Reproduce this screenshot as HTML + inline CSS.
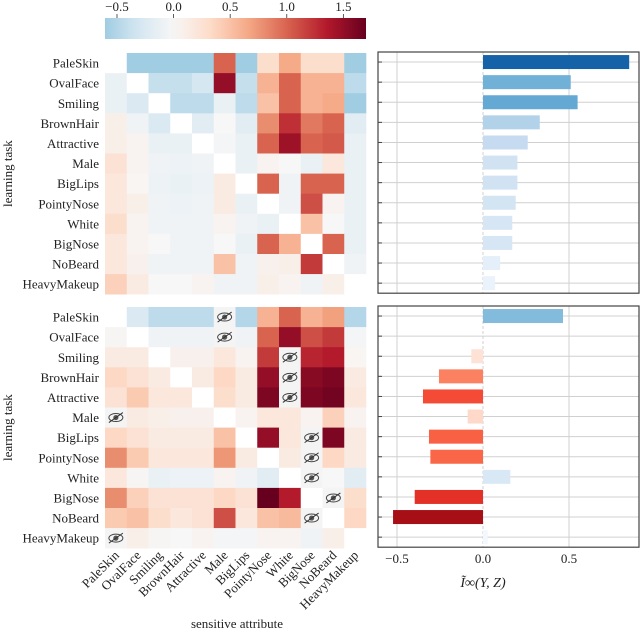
<!DOCTYPE html>
<html><head><meta charset="utf-8"><style>
body{margin:0;background:#fff;}
svg text{font-family:"Liberation Serif",serif;fill:#222;}
</style></head><body>
<svg id="fig" width="640" height="631" viewBox="0 0 640 631" xmlns="http://www.w3.org/2000/svg">
<defs><linearGradient id="cbg" x1="0" x2="1" y1="0" y2="0"></linearGradient></defs>
<g id="cb"></g>
<g id="hm1"></g>
<g id="hm2"></g>
<g id="bc1"></g>
<g id="bc2"></g>
<g id="labels"></g>
</svg>
<script>
const attrs = ["PaleSkin","OvalFace","Smiling","BrownHair","Attractive","Male","BigLips","PointyNose","White","BigNose","NoBeard","HeavyMakeup"];
const N = null, E = "eye";
const topMatrix = [
[N,-0.6,-0.6,-0.6,-0.6,1.0,-0.6,0.3,0.65,0.3,0.3,-0.6],
[-0.12,N,-0.4,-0.4,-0.3,1.5,-0.4,0.6,1.0,0.6,0.6,-0.45],
[-0.12,-0.25,N,-0.45,-0.45,-0.12,-0.45,0.5,1.0,0.6,0.65,-0.6],
[0.1,-0.07,-0.25,N,-0.2,0.0,-0.2,0.8,1.25,0.9,1.0,-0.2],
[0.1,0.05,-0.12,-0.12,N,-0.03,-0.12,1.0,1.45,1.0,1.05,-0.12],
[0.25,0.05,-0.07,-0.1,-0.07,N,-0.12,0.05,0.0,-0.12,0.2,-0.12],
[0.2,0.03,-0.1,-0.12,-0.1,0.15,N,1.0,-0.07,1.0,1.0,-0.12],
[0.2,0.1,-0.07,-0.1,-0.07,0.15,-0.12,N,-0.07,1.1,0.05,-0.12],
[0.3,0.05,-0.07,-0.07,-0.07,0.05,-0.07,-0.12,N,0.5,0.0,-0.12],
[0.2,0.05,0.0,-0.07,-0.07,0.0,-0.12,1.0,0.6,N,1.0,-0.12],
[0.2,0.08,-0.07,-0.07,-0.07,0.5,-0.07,0.08,0.1,1.2,N,-0.07],
[0.4,0.15,0.0,0.0,0.05,-0.07,-0.07,0.1,0.05,-0.07,0.1,N]];
const bottomMatrix = [
[N,-0.25,-0.45,-0.45,-0.45,E,-0.5,0.6,1.0,0.6,0.7,-0.5],
[0.02,N,-0.07,-0.07,-0.07,E,-0.07,1.0,1.5,1.1,1.2,-0.04],
[0.15,0.15,N,0.08,0.08,0.2,0.05,1.2,E,1.3,1.35,0.03],
[0.35,0.25,0.15,N,0.15,0.35,0.15,1.5,E,1.55,1.6,0.15],
[0.25,0.45,0.2,0.2,N,0.3,0.15,1.6,E,1.6,1.65,0.2],
[E,0.15,0.1,0.08,0.08,N,0.05,0.2,0.2,0.05,0.4,0.05],
[0.35,0.25,0.15,0.15,0.15,0.5,N,1.5,0.2,E,1.6,0.15],
[0.8,0.45,0.2,0.2,0.2,0.75,0.15,N,0.15,E,0.35,0.15],
[0.2,0.02,-0.12,-0.1,-0.1,0.05,-0.07,-0.2,N,E,0.0,-0.2],
[0.8,0.4,0.25,0.25,0.25,0.35,0.25,1.7,1.35,N,E,0.3],
[0.45,0.5,0.3,0.2,0.25,1.1,0.2,0.5,0.55,E,N,0.35],
[E,0.1,0.02,0.0,0.05,-0.04,-0.04,0.05,0.05,-0.07,0.1,N]];
const topBars = [0.85,0.51,0.55,0.33,0.26,0.20,0.20,0.19,0.17,0.17,0.10,0.07];
const bottomBars = [0.465,0.0,-0.068,-0.256,-0.349,-0.089,-0.314,-0.306,0.159,-0.397,-0.523,0.027];
const cbTicks = [-0.5,0.0,0.5,1.0,1.5];
const barTicks = [-0.5,0.0,0.5];

const NS="http://www.w3.org/2000/svg";
function mk(tag,parent,at){const e=document.createElementNS(NS,tag);for(const k in at)e.setAttribute(k,at[k]);parent.appendChild(e);return e;}
function hex(h){return [parseInt(h.slice(1,3),16),parseInt(h.slice(3,5),16),parseInt(h.slice(5,7),16)];}
function interp(stops,t){t=Math.max(0,Math.min(1,t));const n=stops.length-1;const i=Math.min(n-1,Math.floor(t*n));const f=t*n-i;const a=hex(stops[i]),b=hex(stops[i+1]);return "rgb("+a.map((v,k)=>Math.round(v+(b[k]-v)*f)).join(",")+")";}
const RdBuR=["#053061","#2166ac","#4393c3","#92c5de","#d1e5f0","#f7f7f7","#fddbc7","#f4a582","#d6604d","#b2182b","#67001f"];
const Blues=["#f7fbff","#deebf7","#c6dbef","#9ecae1","#6baed6","#4292c6","#2171b5","#08519c","#08306b"];
const Reds=["#fff5f0","#fee0d2","#fcbba1","#fc9272","#fb6a4a","#ef3b2c","#cb181d","#a50f15","#67000d"];
const heatColor=v=>interp(RdBuR,(v+1.7)/3.4);

const hx0=105, cw=21.75, ch=20.1, topY=53, botY=307;
function heatX(j){return hx0+j*cw;}
function heatY(y0,i){return y0+i*ch;}

const cbX0=105,cbX1=366,cbMin=-0.606,cbMax=1.70;
const cbScale=v=>cbX0+(v-cbMin)/(cbMax-cbMin)*(cbX1-cbX0);
const grad=document.getElementById('cbg');
for(let k=0;k<=20;k++){const v=cbMin+(cbMax-cbMin)*k/20;mk('stop',grad,{offset:(k*5)+'%','stop-color':heatColor(v)});}
const cb=document.getElementById('cb');
const cbr=mk('rect',cb,{x:cbX0,y:18,width:cbX1-cbX0,height:21,fill:'url(#cbg)'});


cbTicks.forEach(t=>{const x=cbScale(t);
 mk('line',cb,{x1:x,x2:x,y1:14,y2:18,stroke:'#333','stroke-width':0.8});
 const tx=mk('text',cb,{x:x,y:11,'text-anchor':'middle','font-size':13});
 tx.textContent=(t<0?'\u2212':'')+Math.abs(t).toFixed(1);
 
 
});

function eye(g,cx,cy){
 mk('ellipse',g,{cx:cx,cy:cy,rx:7,ry:4,fill:'none',stroke:'#444','stroke-width':1});
 mk('circle',g,{cx:cx,cy:cy,r:2.6,fill:'#555'});
 mk('line',g,{x1:cx-7,y1:cy+5,x2:cx+7,y2:cy-5,stroke:'#333','stroke-width':1});
}

function drawHeat(id,mat,y0,name){
 const g=document.getElementById(id);
 mat.forEach((row,i)=>row.forEach((v,j)=>{
  let fill=v===null?'#ffffff':(v===E?'#f4f4f4':heatColor(v));
  const r=mk('rect',g,{x:heatX(j),y:heatY(y0,i),width:cw+0.3,height:ch+0.3,fill:fill});
  
  
  if(v===E) eye(g,heatX(j)+cw/2,heatY(y0,i)+ch/2);
 }));
 attrs.forEach((a,i)=>{
  const t=mk('text',g,{x:99,y:heatY(y0,i)+ch/2+4.5,'text-anchor':'end','font-size':13});
  t.textContent=a;
  
  
 });
 const yt=mk('text',g,{x:0,y:0,'text-anchor':'middle','font-size':13,transform:`translate(12,${y0+6*ch}) rotate(-90)`});
 yt.textContent='learning task';
 
 
}
drawHeat('hm1',topMatrix,topY,'top');
drawHeat('hm2',bottomMatrix,botY,'bottom');

const L=document.getElementById('labels');
attrs.forEach((a,j)=>{
 const x=heatX(j)+cw/2+4,y=556;
 const t=mk('text',L,{x:x,y:y,'text-anchor':'end','font-size':13,transform:`rotate(-45 ${x} ${y})`});
 t.textContent=a;
 
 
});
const xt=mk('text',L,{x:237,y:628,'text-anchor':'middle','font-size':13});
xt.textContent='sensitive attribute';



const bx0=378,bx1=639,zeroX=483,pxPerUnit=172;
const barX=v=>zeroX+v*pxPerUnit;
function barColor(v){return v>=0?interp(Blues,v/1.05):interp(Reds,-v/0.6);}
function drawBars(id,vals,y0,name,ticks){
 const g=document.getElementById(id);
 const h=ch*12;
 [-0.5,0.5].forEach(t=>mk('line',g,{x1:barX(t),x2:barX(t),y1:y0,y2:y0+h,stroke:'#d0d0d0','stroke-width':1}));
 vals.forEach((v,i)=>{const cy=y0+i*ch+ch/2;mk('line',g,{x1:bx0,x2:bx1,y1:cy,y2:cy,stroke:'#d0d0d0','stroke-width':1});});
 mk('line',g,{x1:zeroX,x2:zeroX,y1:y0,y2:y0+h,stroke:'#d0d0d0','stroke-width':1,'stroke-dasharray':'3,2'});
 vals.forEach((v,i)=>{
  const cy=y0+i*ch+ch/2;const x1=barX(Math.min(0,v)),x2=barX(Math.max(0,v));
  const r=mk('rect',g,{x:x1,y:cy-7,width:Math.max(0,x2-x1),height:14,fill:barColor(v)});
  
  
 });
 mk('rect',g,{x:bx0,y:y0,width:bx1-bx0,height:h,fill:'none',stroke:'#444','stroke-width':1.2});
 vals.forEach((v,i)=>{const cy=y0+i*ch+ch/2;mk('line',g,{x1:bx0,x2:bx0+4,y1:cy,y2:cy,stroke:'#444','stroke-width':1});});
 if(ticks){ticks.forEach(t=>{const x=barX(t);
  const tx=mk('text',g,{x:x,y:y0+h+16,'text-anchor':'middle','font-size':13});
  tx.textContent=(t<0?'\u2212':'')+Math.abs(t).toFixed(1);
  
  
 });
 const tt=mk('text',g,{x:zeroX,y:y0+h+40,'text-anchor':'middle','font-size':14,'font-style':'italic'});
 tt.textContent='\u0128\u221E(Y, Z)';
 
 }
}
drawBars('bc1',topBars,topY-1,'top',null);
drawBars('bc2',bottomBars,botY-1,'bottom',barTicks);
</script>
</body></html>
